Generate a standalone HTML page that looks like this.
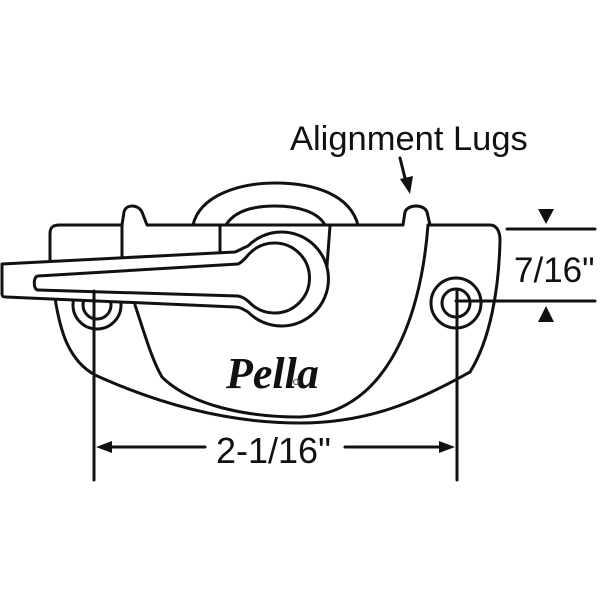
<!DOCTYPE html>
<html><head><meta charset="utf-8"><style>
html,body{margin:0;padding:0;background:#fff;}
svg{display:block}
text{font-family:"Liberation Sans",Arial,sans-serif;fill:#111}
</style></head><body>
<svg width="600" height="600" viewBox="0 0 600 600" xmlns="http://www.w3.org/2000/svg">
<g fill="none" stroke="#111" stroke-width="3" stroke-linejoin="round" stroke-linecap="round">
<!-- dome -->
<path d="M193,225 C200,195 240,183 275,183 C315,183 350,195 358,225"/>
<path d="M226,225 C235,210 255,206 275,206 C298,206 318,212 325,225"/>
<!-- top line with lugs -->
<path d="M60,225 L122,225 L124,212 C126,204 138,204 142,212 L147,225 L403,225 L405,212 C408,204 424,204 427,212 L430,225 L490,225 C497,225 500,232 500,240"/>
<path d="M60,225 C52,225 50,228 50,234 L50,262"/>
<path d="M500,240 C499,290 490,340 470,372"/>
<path d="M55,298 C60,330 68,360 95,375 C150,400 220,423 300,423 C370,423 420,400 470,372"/>
<path d="M122,225 L122,256"/>
<path d="M220,225 L220,252"/>
<path d="M330,226 L325,292"/>
<path d="M135,305 C145,335 152,360 162,377 C190,405 245,417 300,417 C380,415 420,330 428,225"/>
<!-- screws -->
<circle cx="97" cy="305" r="24"/>
<circle cx="97" cy="305" r="14"/>
<circle cx="456" cy="303" r="25"/>
<circle cx="456" cy="303" r="14"/>
<!-- lever outer -->
<path d="M2,264 L235,252 C240,250 243,248 248,246 A47,47 0 1 1 248,312 C243,309 240,307 235,307 L6,297 C3,297 2,296 2,294 Z" fill="#fff"/>
<!-- lever inner -->
<path d="M38,276 L238,264 C243,262 246,257 250,253 A35,35 0 1 1 250,303 C246,299 243,297 238,296 L38,290 C33,290 33,276 38,276 Z" fill="#fff"/>
<!-- dimension lines -->
<path d="M94,291 L94,480"/>
<path d="M457,290 L457,480"/>
<path d="M108,447 L205,447"/>
<path d="M345,447 L443,447"/>
<path d="M507,229 L595,229"/>
<path d="M456,301 L595,301"/>
<path d="M400,158 L406,182"/>
</g>
<g fill="#111">
<polygon points="96,447 112,441 112,453"/>
<polygon points="455,447 439,441 439,453"/>
<polygon points="538,209 554,209 546,224"/>
<polygon points="538,322 554,322 546,306"/>
<polygon points="400,179 413,176 410,194"/>
</g>
<text x="290" y="150" font-size="34.5">Alignment Lugs</text>
<text x="514" y="282" font-size="35">7/16"</text>
<text x="216" y="463" font-size="36">2-1/16"</text>
<text x="226" y="388" font-size="44" font-style="italic" font-weight="bold" style="font-family:'Liberation Serif',serif">Pella</text>
<circle cx="296" cy="382" r="2.5" fill="none" stroke="#555" stroke-width="1"/>
</svg>
</body></html>
